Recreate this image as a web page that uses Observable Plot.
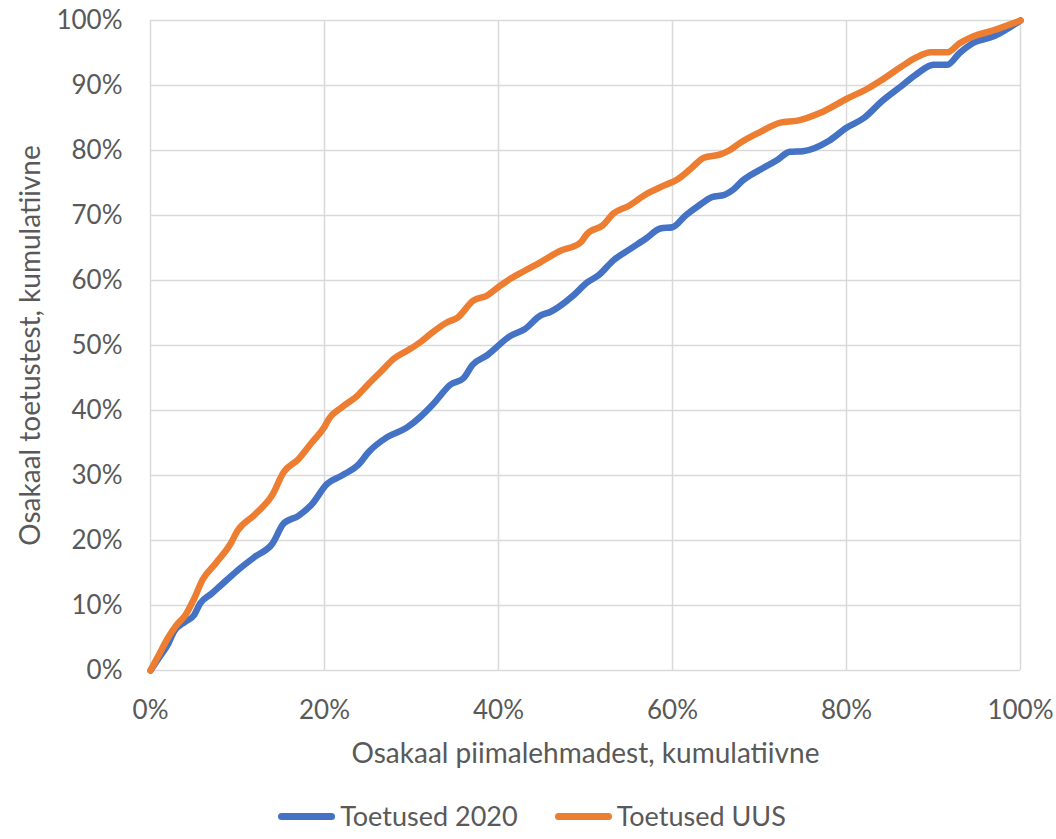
<!DOCTYPE html>
<html>
<head>
<meta charset="utf-8">
<script src="https://cdn.jsdelivr.net/npm/d3@7"></script>
<script src="https://cdn.jsdelivr.net/npm/@observablehq/plot@0.6"></script>
<style>
  html, body { margin: 0; background: #fff; font-family: Lato, "Open Sans", sans-serif; overflow: hidden; }
  #chart svg { display: block; }
  #legend { display: flex; justify-content: center; align-items: center; height: 40px; margin-top: 6px; margin-left: 8px; font-size: 27px; line-height: 32px; color: #595959; font-family: Lato, sans-serif; }
  .item { display: flex; align-items: center; }
  .item + .item { margin-left: 37px; }
  .sw { width: 57px; height: 7px; border-radius: 4px; margin-right: 5px; }
</style>
</head>
<body>
<div id="chart"></div>
<div id="legend"></div>
<script>
const seriesNames = ["Toetused 2020", "Toetused UUS"];
const seriesColors = ["#4472C4", "#ED7D31"];
const xTicks = [0, 20, 40, 60, 80, 100];
const yTicks = [0, 10, 20, 30, 40, 50, 60, 70, 80, 90, 100];
const xLabel = "Osakaal piimalehmadest, kumulatiivne";
const yLabel = "Osakaal toetustest, kumulatiivne";

// Toetused 2020: [x %, y %]
const blue = [
  [0,0],[1,2],[2,4],[2.7,6],[4,7.5],[5,8.5],[5.7,10.3],[7,11.8],[8,13],[10,15.4],
  [12,17.5],[14,19.5],[15.3,22.6],[17,23.8],[18.5,25.5],[20.3,28.7],[22,30],[24,31.8],
  [25,33.5],[27.2,35.9],[29.5,37.4],[31,39],[32.5,41],[34.5,44],[36,45],[37,47],
  [38.7,48.5],[41.4,51.5],[43,52.5],[44.8,54.6],[46,55.2],[48.6,57.7],[50.2,59.7],
  [51.5,60.8],[53.2,63.1],[55.2,64.9],[57,66.5],[58.6,68],[60,68.2],[61.5,70],
  [63,71.5],[64.5,72.8],[66,73.2],[67,74],[68,75.3],[70,77],[72,78.5],[73.5,79.8],
  [75,79.9],[78,81.5],[80,83.5],[82,85],[84,87.5],[86.2,89.8],[88,91.7],[90,93.2],
  [91.6,93.2],[93,95],[94.5,96.5],[97,97.6],[100,100]
];
// Toetused UUS: [x %, y %]
const orange = [
  [0,0],[1,2.5],[2,5],[3,7],[4,8.5],[5,11],[6,14],[7.5,16.5],[9.2,19.5],[10,21.5],
  [12,24],[14,27],[15.3,30.5],[17,32.5],[18.5,35],[20,37.5],[20.5,38.7],[22,40.5],
  [23.8,42.3],[25,44],[26.5,46],[28,48],[29.5,49.2],[31,50.5],[32.2,51.8],[34,53.5],
  [35.3,54.3],[37.1,56.9],[38.7,57.7],[40,59],[41.4,60.3],[43,61.5],[44.8,62.8],
  [47,64.5],[49.4,65.8],[50.2,67.2],[52,68.5],[53.2,70.3],[55,71.5],[57,73.3],
  [59,74.6],[60.5,75.5],[62.1,77.2],[63.6,78.9],[65.5,79.4],[66.5,80],[67.8,81.2],
  [70,82.8],[72.4,84.3],[74.4,84.6],[77,85.8],[80.1,88],[82.4,89.5],[84,90.8],
  [86.2,92.8],[88,94.3],[89.7,95.1],[91.6,95.1],[93,96.5],[94.3,97.4],[96.9,98.5],[100,100]
];

const data = [
  ...blue.map(([x, y]) => ({x, y, s: seriesNames[0]})),
  ...orange.map(([x, y]) => ({x, y, s: seriesNames[1]}))
];

const txt = "#595959";
const chart = Plot.plot({
  width: 1056,
  height: 790,
  marginLeft: 150,
  marginRight: 36,
  marginTop: 20,
  marginBottom: 120,
  style: {fontFamily: "Lato, 'Open Sans', sans-serif", fontSize: "26px", color: txt, background: "#fff"},
  x: {domain: [0, 100]},
  y: {domain: [0, 100]},
  color: {domain: seriesNames, range: seriesColors},
  marks: [
    Plot.gridX(xTicks, {stroke: "#d9d9d9", strokeOpacity: 1, strokeWidth: 1.5}),
    Plot.gridY(yTicks, {stroke: "#d9d9d9", strokeOpacity: 1, strokeWidth: 1.5}),
    Plot.axisX(xTicks, {tickSize: 0, tickPadding: 30, tickFormat: d => d + "%", label: null, fill: txt, fontSize: 26}),
    Plot.axisY(yTicks, {tickSize: 0, tickPadding: 28, tickFormat: d => d + "%", label: null, fill: txt, fontSize: 26}),
    Plot.line(data, {x: "x", y: "y", z: "s", stroke: "s", strokeWidth: 6.5, curve: "monotone-x", strokeLinecap: "round", strokeLinejoin: "round"}),
    Plot.text([xLabel], {frameAnchor: "bottom", dy: 84, lineAnchor: "middle", textAnchor: "middle", text: d => d, fill: txt, fontSize: 28}),
    Plot.text([yLabel], {frameAnchor: "left", dx: -119, rotate: -90, lineAnchor: "middle", textAnchor: "middle", text: d => d, fill: txt, fontSize: 28})
  ]
});
document.getElementById("chart").appendChild(chart);

const legend = document.getElementById("legend");
seriesNames.forEach((n, i) => {
  const it = document.createElement("div");
  it.className = "item";
  const sw = document.createElement("div");
  sw.className = "sw";
  sw.style.background = seriesColors[i];
  const t = document.createElement("span");
  t.textContent = n;
  it.appendChild(sw);
  it.appendChild(t);
  legend.appendChild(it);
});
</script>
</body>
</html>
